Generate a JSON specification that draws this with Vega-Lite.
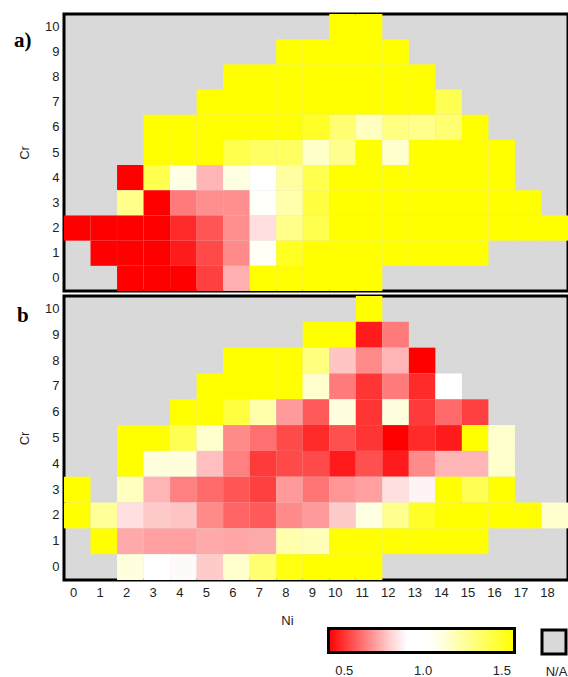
{
  "$schema": "https://vega.github.io/schema/vega-lite/v6.json",
  "padding": {"left": 12, "top": 12, "right": 0, "bottom": 0},
  "data": {"values": [
    {"p":"a","ni":10,"cr":10,"v":1.6},{"p":"a","ni":11,"cr":10,"v":1.6},
    {"p":"a","ni":8,"cr":9,"v":1.6},{"p":"a","ni":9,"cr":9,"v":1.6},{"p":"a","ni":10,"cr":9,"v":1.6},{"p":"a","ni":11,"cr":9,"v":1.6},{"p":"a","ni":12,"cr":9,"v":1.6},
    {"p":"a","ni":6,"cr":8,"v":1.6},{"p":"a","ni":7,"cr":8,"v":1.6},{"p":"a","ni":8,"cr":8,"v":1.6},{"p":"a","ni":9,"cr":8,"v":1.6},{"p":"a","ni":10,"cr":8,"v":1.6},{"p":"a","ni":11,"cr":8,"v":1.6},{"p":"a","ni":12,"cr":8,"v":1.6},{"p":"a","ni":13,"cr":8,"v":1.6},
    {"p":"a","ni":5,"cr":7,"v":1.6},{"p":"a","ni":6,"cr":7,"v":1.6},{"p":"a","ni":7,"cr":7,"v":1.6},{"p":"a","ni":8,"cr":7,"v":1.6},{"p":"a","ni":9,"cr":7,"v":1.6},{"p":"a","ni":10,"cr":7,"v":1.6},{"p":"a","ni":11,"cr":7,"v":1.6},{"p":"a","ni":12,"cr":7,"v":1.6},{"p":"a","ni":13,"cr":7,"v":1.6},{"p":"a","ni":14,"cr":7,"v":1.41},
    {"p":"a","ni":3,"cr":6,"v":1.6},{"p":"a","ni":4,"cr":6,"v":1.6},{"p":"a","ni":5,"cr":6,"v":1.6},{"p":"a","ni":6,"cr":6,"v":1.6},{"p":"a","ni":7,"cr":6,"v":1.6},{"p":"a","ni":8,"cr":6,"v":1.6},{"p":"a","ni":9,"cr":6,"v":1.5},{"p":"a","ni":10,"cr":6,"v":1.35},{"p":"a","ni":11,"cr":6,"v":1.19},{"p":"a","ni":12,"cr":6,"v":1.32},{"p":"a","ni":13,"cr":6,"v":1.3},{"p":"a","ni":14,"cr":6,"v":1.35},{"p":"a","ni":15,"cr":6,"v":1.6},
    {"p":"a","ni":3,"cr":5,"v":1.6},{"p":"a","ni":4,"cr":5,"v":1.6},{"p":"a","ni":5,"cr":5,"v":1.6},{"p":"a","ni":6,"cr":5,"v":1.42},{"p":"a","ni":7,"cr":5,"v":1.38},{"p":"a","ni":8,"cr":5,"v":1.38},{"p":"a","ni":9,"cr":5,"v":1.17},{"p":"a","ni":10,"cr":5,"v":1.29},{"p":"a","ni":11,"cr":5,"v":1.6},{"p":"a","ni":12,"cr":5,"v":1.16},{"p":"a","ni":13,"cr":5,"v":1.6},{"p":"a","ni":14,"cr":5,"v":1.6},{"p":"a","ni":15,"cr":5,"v":1.6},{"p":"a","ni":16,"cr":5,"v":1.6},
    {"p":"a","ni":2,"cr":4,"v":0.4},{"p":"a","ni":3,"cr":4,"v":1.42},{"p":"a","ni":4,"cr":4,"v":1.11},{"p":"a","ni":5,"cr":4,"v":0.74},{"p":"a","ni":6,"cr":4,"v":1.12},{"p":"a","ni":7,"cr":4,"v":1.0},{"p":"a","ni":8,"cr":4,"v":1.25},{"p":"a","ni":9,"cr":4,"v":1.42},{"p":"a","ni":10,"cr":4,"v":1.6},{"p":"a","ni":11,"cr":4,"v":1.6},{"p":"a","ni":12,"cr":4,"v":1.6},{"p":"a","ni":13,"cr":4,"v":1.6},{"p":"a","ni":14,"cr":4,"v":1.6},{"p":"a","ni":15,"cr":4,"v":1.6},{"p":"a","ni":16,"cr":4,"v":1.6},
    {"p":"a","ni":2,"cr":3,"v":1.3},{"p":"a","ni":3,"cr":3,"v":0.4},{"p":"a","ni":4,"cr":3,"v":0.63},{"p":"a","ni":5,"cr":3,"v":0.67},{"p":"a","ni":6,"cr":3,"v":0.67},{"p":"a","ni":7,"cr":3,"v":1.07},{"p":"a","ni":8,"cr":3,"v":1.23},{"p":"a","ni":9,"cr":3,"v":1.45},{"p":"a","ni":10,"cr":3,"v":1.6},{"p":"a","ni":11,"cr":3,"v":1.6},{"p":"a","ni":12,"cr":3,"v":1.6},{"p":"a","ni":13,"cr":3,"v":1.6},{"p":"a","ni":14,"cr":3,"v":1.6},{"p":"a","ni":15,"cr":3,"v":1.6},{"p":"a","ni":16,"cr":3,"v":1.6},{"p":"a","ni":17,"cr":3,"v":1.6},
    {"p":"a","ni":0,"cr":2,"v":0.4},{"p":"a","ni":1,"cr":2,"v":0.4},{"p":"a","ni":2,"cr":2,"v":0.4},{"p":"a","ni":3,"cr":2,"v":0.4},{"p":"a","ni":4,"cr":2,"v":0.48},{"p":"a","ni":5,"cr":2,"v":0.56},{"p":"a","ni":6,"cr":2,"v":0.67},{"p":"a","ni":7,"cr":2,"v":0.82},{"p":"a","ni":8,"cr":2,"v":1.3},{"p":"a","ni":9,"cr":2,"v":1.42},{"p":"a","ni":10,"cr":2,"v":1.6},{"p":"a","ni":11,"cr":2,"v":1.6},{"p":"a","ni":12,"cr":2,"v":1.6},{"p":"a","ni":13,"cr":2,"v":1.6},{"p":"a","ni":14,"cr":2,"v":1.6},{"p":"a","ni":15,"cr":2,"v":1.6},{"p":"a","ni":16,"cr":2,"v":1.6},{"p":"a","ni":17,"cr":2,"v":1.6},{"p":"a","ni":18,"cr":2,"v":1.6},
    {"p":"a","ni":1,"cr":1,"v":0.4},{"p":"a","ni":2,"cr":1,"v":0.4},{"p":"a","ni":3,"cr":1,"v":0.4},{"p":"a","ni":4,"cr":1,"v":0.45},{"p":"a","ni":5,"cr":1,"v":0.54},{"p":"a","ni":6,"cr":1,"v":0.66},{"p":"a","ni":7,"cr":1,"v":1.08},{"p":"a","ni":8,"cr":1,"v":1.51},{"p":"a","ni":9,"cr":1,"v":1.6},{"p":"a","ni":10,"cr":1,"v":1.6},{"p":"a","ni":11,"cr":1,"v":1.6},{"p":"a","ni":12,"cr":1,"v":1.6},{"p":"a","ni":13,"cr":1,"v":1.6},{"p":"a","ni":14,"cr":1,"v":1.6},{"p":"a","ni":15,"cr":1,"v":1.6},
    {"p":"a","ni":2,"cr":0,"v":0.4},{"p":"a","ni":3,"cr":0,"v":0.4},{"p":"a","ni":4,"cr":0,"v":0.4},{"p":"a","ni":5,"cr":0,"v":0.52},{"p":"a","ni":6,"cr":0,"v":0.73},{"p":"a","ni":7,"cr":0,"v":1.6},{"p":"a","ni":8,"cr":0,"v":1.6},{"p":"a","ni":9,"cr":0,"v":1.6},{"p":"a","ni":10,"cr":0,"v":1.6},{"p":"a","ni":11,"cr":0,"v":1.6},

    {"p":"b","ni":11,"cr":10,"v":1.6},
    {"p":"b","ni":9,"cr":9,"v":1.6},{"p":"b","ni":10,"cr":9,"v":1.6},{"p":"b","ni":11,"cr":9,"v":0.45},{"p":"b","ni":12,"cr":9,"v":0.63},
    {"p":"b","ni":6,"cr":8,"v":1.6},{"p":"b","ni":7,"cr":8,"v":1.6},{"p":"b","ni":8,"cr":8,"v":1.6},{"p":"b","ni":9,"cr":8,"v":1.32},{"p":"b","ni":10,"cr":8,"v":0.77},{"p":"b","ni":11,"cr":8,"v":0.66},{"p":"b","ni":12,"cr":8,"v":0.74},{"p":"b","ni":13,"cr":8,"v":0.4},
    {"p":"b","ni":5,"cr":7,"v":1.6},{"p":"b","ni":6,"cr":7,"v":1.6},{"p":"b","ni":7,"cr":7,"v":1.6},{"p":"b","ni":8,"cr":7,"v":1.6},{"p":"b","ni":9,"cr":7,"v":1.16},{"p":"b","ni":10,"cr":7,"v":0.63},{"p":"b","ni":11,"cr":7,"v":0.5},{"p":"b","ni":12,"cr":7,"v":0.63},{"p":"b","ni":13,"cr":7,"v":0.48},{"p":"b","ni":14,"cr":7,"v":1.0},
    {"p":"b","ni":4,"cr":6,"v":1.6},{"p":"b","ni":5,"cr":6,"v":1.6},{"p":"b","ni":6,"cr":6,"v":1.45},{"p":"b","ni":7,"cr":6,"v":1.23},{"p":"b","ni":8,"cr":6,"v":0.69},{"p":"b","ni":9,"cr":6,"v":0.57},{"p":"b","ni":10,"cr":6,"v":1.13},{"p":"b","ni":11,"cr":6,"v":0.5},{"p":"b","ni":12,"cr":6,"v":1.13},{"p":"b","ni":13,"cr":6,"v":0.51},{"p":"b","ni":14,"cr":6,"v":0.6},{"p":"b","ni":15,"cr":6,"v":0.52},
    {"p":"b","ni":2,"cr":5,"v":1.6},{"p":"b","ni":3,"cr":5,"v":1.6},{"p":"b","ni":4,"cr":5,"v":1.41},{"p":"b","ni":5,"cr":5,"v":1.16},{"p":"b","ni":6,"cr":5,"v":0.66},{"p":"b","ni":7,"cr":5,"v":0.61},{"p":"b","ni":8,"cr":5,"v":0.54},{"p":"b","ni":9,"cr":5,"v":0.48},{"p":"b","ni":10,"cr":5,"v":0.55},{"p":"b","ni":11,"cr":5,"v":0.5},{"p":"b","ni":12,"cr":5,"v":0.4},{"p":"b","ni":13,"cr":5,"v":0.48},{"p":"b","ni":14,"cr":5,"v":0.45},{"p":"b","ni":15,"cr":5,"v":1.6},{"p":"b","ni":16,"cr":5,"v":1.16},
    {"p":"b","ni":2,"cr":4,"v":1.6},{"p":"b","ni":3,"cr":4,"v":1.13},{"p":"b","ni":4,"cr":4,"v":1.13},{"p":"b","ni":5,"cr":4,"v":0.76},{"p":"b","ni":6,"cr":4,"v":0.64},{"p":"b","ni":7,"cr":4,"v":0.51},{"p":"b","ni":8,"cr":4,"v":0.54},{"p":"b","ni":9,"cr":4,"v":0.54},{"p":"b","ni":10,"cr":4,"v":0.45},{"p":"b","ni":11,"cr":4,"v":0.55},{"p":"b","ni":12,"cr":4,"v":0.45},{"p":"b","ni":13,"cr":4,"v":0.66},{"p":"b","ni":14,"cr":4,"v":0.74},{"p":"b","ni":15,"cr":4,"v":0.74},{"p":"b","ni":16,"cr":4,"v":1.16},
    {"p":"b","ni":0,"cr":3,"v":1.6},{"p":"b","ni":2,"cr":3,"v":1.19},{"p":"b","ni":3,"cr":3,"v":0.74},{"p":"b","ni":4,"cr":3,"v":0.64},{"p":"b","ni":5,"cr":3,"v":0.6},{"p":"b","ni":6,"cr":3,"v":0.56},{"p":"b","ni":7,"cr":3,"v":0.52},{"p":"b","ni":8,"cr":3,"v":0.69},{"p":"b","ni":9,"cr":3,"v":0.62},{"p":"b","ni":10,"cr":3,"v":0.68},{"p":"b","ni":11,"cr":3,"v":0.7},{"p":"b","ni":12,"cr":3,"v":0.82},{"p":"b","ni":13,"cr":3,"v":0.86},{"p":"b","ni":14,"cr":3,"v":1.6},{"p":"b","ni":15,"cr":3,"v":1.41},{"p":"b","ni":16,"cr":3,"v":1.6},
    {"p":"b","ni":0,"cr":2,"v":1.6},{"p":"b","ni":1,"cr":2,"v":1.27},{"p":"b","ni":2,"cr":2,"v":0.82},{"p":"b","ni":3,"cr":2,"v":0.78},{"p":"b","ni":4,"cr":2,"v":0.77},{"p":"b","ni":5,"cr":2,"v":0.66},{"p":"b","ni":6,"cr":2,"v":0.59},{"p":"b","ni":7,"cr":2,"v":0.57},{"p":"b","ni":8,"cr":2,"v":0.66},{"p":"b","ni":9,"cr":2,"v":0.69},{"p":"b","ni":10,"cr":2,"v":0.78},{"p":"b","ni":11,"cr":2,"v":1.12},{"p":"b","ni":12,"cr":2,"v":1.29},{"p":"b","ni":13,"cr":2,"v":1.5},{"p":"b","ni":14,"cr":2,"v":1.6},{"p":"b","ni":15,"cr":2,"v":1.6},{"p":"b","ni":16,"cr":2,"v":1.6},{"p":"b","ni":17,"cr":2,"v":1.6},{"p":"b","ni":18,"cr":2,"v":1.16},
    {"p":"b","ni":1,"cr":1,"v":1.6},{"p":"b","ni":2,"cr":1,"v":0.72},{"p":"b","ni":3,"cr":1,"v":0.7},{"p":"b","ni":4,"cr":1,"v":0.7},{"p":"b","ni":5,"cr":1,"v":0.72},{"p":"b","ni":6,"cr":1,"v":0.71},{"p":"b","ni":7,"cr":1,"v":0.72},{"p":"b","ni":8,"cr":1,"v":1.23},{"p":"b","ni":9,"cr":1,"v":1.2},{"p":"b","ni":10,"cr":1,"v":1.6},{"p":"b","ni":11,"cr":1,"v":1.6},{"p":"b","ni":12,"cr":1,"v":1.6},{"p":"b","ni":13,"cr":1,"v":1.6},{"p":"b","ni":14,"cr":1,"v":1.6},{"p":"b","ni":15,"cr":1,"v":1.6},
    {"p":"b","ni":2,"cr":0,"v":1.13},{"p":"b","ni":3,"cr":0,"v":1.0},{"p":"b","ni":4,"cr":0,"v":0.87},{"p":"b","ni":5,"cr":0,"v":0.78},{"p":"b","ni":6,"cr":0,"v":1.16},{"p":"b","ni":7,"cr":0,"v":1.35},{"p":"b","ni":8,"cr":0,"v":1.55},{"p":"b","ni":9,"cr":0,"v":1.6},{"p":"b","ni":10,"cr":0,"v":1.6},{"p":"b","ni":11,"cr":0,"v":1.6}
  ]},
  "spacing": 1,
  "resolve": {"scale": {"color": "shared", "fill": "shared"}, "legend": {"color": "shared", "fill": "shared"}},
  "vconcat": [
    {
      "width": 504, "height": 277,
      "title": {"text": "a)", "dx": -50, "dy": 41},
      "transform": [{"filter": "datum.p === 'a'"}],
      "mark": {"type": "rect"},
      "encoding": {
        "x": {"field": "ni", "type": "ordinal", "scale": {"domain": [0,1,2,3,4,5,6,7,8,9,10,11,12,13,14,15,16,17,18], "paddingInner": 0, "paddingOuter": 0}, "axis": null},
        "y": {"field": "cr", "type": "ordinal", "scale": {"domain": [10,9,8,7,6,5,4,3,2,1,0], "paddingInner": 0, "paddingOuter": 0}, "axis": {"title": "Cr", "labelPadding": 5, "titlePadding": 13}},
        "color": {"field": "v", "type": "quantitative",
          "scale": {"domain": [0.4, 0.88, 1.06, 1.58], "range": ["#ff0000", "#ffffff", "#ffffff", "#ffff00"], "interpolate": "rgb", "clamp": true},
          "legend": {"orient": "none", "direction": "horizontal", "title": null, "legendX": 264.5, "legendY": 614.5,
            "gradientLength": 186, "gradientThickness": 24, "gradientStrokeColor": "black", "gradientStrokeWidth": 3,
            "values": [0.5, 1.0, 1.5], "format": ".1f", "labelOffset": 12}}
      }
    },
    {
      "width": 504, "height": 284,
      "title": {"text": "b", "dx": -47, "dy": 34},
      "transform": [{"filter": "datum.p === 'b'"}],
      "layer": [
        {
          "mark": {"type": "rect", "opacity": 0},
          "encoding": {
            "x": {"field": "ni", "type": "ordinal"},
            "y": {"field": "cr", "type": "ordinal"},
            "fill": {"datum": "N/A", "type": "nominal", "scale": {"domain": ["N/A"], "range": ["#d9d9d9"]},
              "legend": {"orient": "none", "legendX": 476.5, "legendY": 614.5, "title": "N/A", "titleOrient": "bottom", "titleAnchor": "middle",
                "titlePadding": 5, "symbolType": "square", "symbolSize": 576, "symbolStrokeColor": "black", "symbolStrokeWidth": 3,
                "labelExpr": "''", "labelOffset": 0,
                "encode": {"symbols": {"update": {"stroke": {"value": "black"}, "strokeWidth": {"value": 3}, "opacity": {"value": 1}}}}}}
          }
        },
        {
          "mark": {"type": "rect"},
          "encoding": {
            "x": {"field": "ni", "type": "ordinal", "scale": {"domain": [0,1,2,3,4,5,6,7,8,9,10,11,12,13,14,15,16,17,18], "paddingInner": 0, "paddingOuter": 0},
              "axis": {"title": "Ni", "labelPadding": 12, "labelAngle": 0, "titleX": 223, "titleY": 40, "titleBaseline": "middle"}},
            "y": {"field": "cr", "type": "ordinal", "scale": {"domain": [10,9,8,7,6,5,4,3,2,1,0], "paddingInner": 0, "paddingOuter": 0}, "axis": {"title": "Cr", "labelPadding": 5, "titlePadding": 13}},
            "color": {"field": "v", "type": "quantitative"}
          }
        }
      ]
    }
  ],
  "config": {
    "view": {"fill": "#d9d9d9", "stroke": "black", "strokeWidth": 3},
    "font": "Liberation Sans",
    "axis": {"labelFont": "Liberation Sans", "titleFont": "Liberation Sans", "labelFontSize": 13, "titleFontSize": 13, "labelColor": "#222", "titleColor": "#222", "titleFontWeight": "normal", "ticks": false, "domain": false, "grid": false},
    "legend": {"labelFont": "Liberation Sans", "labelFontSize": 13, "labelColor": "#222", "titleFont": "Liberation Sans", "titleFontSize": 13, "titleColor": "#222", "titleFontWeight": "normal", "padding": 0, "offset": 0},
    "title": {"font": "Liberation Serif", "fontSize": 21, "fontWeight": "bold", "color": "black", "anchor": "start", "frame": "group", "offset": 0, "baseline": "alphabetic"}
  }
}
